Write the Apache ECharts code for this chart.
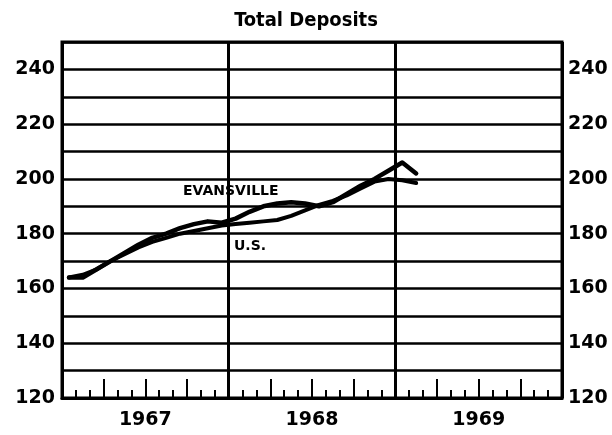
<!DOCTYPE html>
<html>
<head>
<meta charset="utf-8">
<script src="https://cdn.jsdelivr.net/npm/echarts@6/dist/echarts.min.js"></script>
<style>
	html, body { margin: 0; padding: 0; background: #fff; }
	#chart { width: 612px; height: 435px; }
</style>
</head>
<body>
<div id="chart"></div>
<script>
// data, monthly Jan 1967 - Feb 1969
const years = ['1967', '1968', '1969'];
const quarters = ['Q1', 'Q2', 'Q3', 'Q4', 'Q1', 'Q2', 'Q3', 'Q4', 'Q1', 'Q2', 'Q3', 'Q4'];
const months = [];
years.forEach(function(y) {
	for (let m = 1; m <= 12; m++) months.push(y + '-' + m);
});
const evansville = [164, 164, 167, 170, 173, 176, 178.5, 180, 182, 183.5, 184.5, 184,
	185.5, 188, 190, 191, 191.5, 191, 190, 191.5, 194.5, 197.5, 200, 203,
	206, 202];
const us = [164, 165, 167, 170, 172.5, 175, 177, 178.5, 180, 181, 182, 183,
	183.5, 184, 184.5, 185, 186.5, 188.5, 190.5, 192, 194, 196.5, 199, 200,
	199.5, 198.5];

(function() {
	let myChart = echarts.init(document.getElementById('chart'));

	const labelFont = {
		color: '#000',
		fontFamily: 'DejaVu Sans',
		fontWeight: 'bold',
		fontSize: 19
	};

	let option = {
		backgroundColor: '#fff',
		animation: false,
		title: {
			text: 'Total Deposits',
			left: 'center',
			top: 6,
			textStyle: {
				color: '#000',
				fontFamily: 'DejaVu Sans Condensed',
				fontWeight: 'bold',
				fontSize: 20
			}
		},
		grid: {
			left: 62,
			right: 50,
			top: 42,
			bottom: 37,
			show: true,
			borderColor: '#000',
			borderWidth: 3
		},
		xAxis: [
			{
				// 月份刻度
				type: 'category',
				data: months,
				position: 'bottom',
				boundaryGap: true,
				axisLine: { show: true, lineStyle: { color: '#000', width: 3 } },
				axisTick: { show: true, inside: true, length: 8, interval: 0, lineStyle: { color: '#000', width: 2 } },
				axisLabel: { show: false },
				splitLine: { show: false }
			},
			{
				// 季度刻度
				type: 'category',
				data: quarters,
				position: 'bottom',
				boundaryGap: true,
				axisLine: { show: false },
				axisTick: { show: true, inside: true, length: 19, interval: 0, lineStyle: { color: '#000', width: 2 } },
				axisLabel: { show: false },
				splitLine: { show: false }
			},
			{
				// 年份
				type: 'category',
				data: years,
				position: 'bottom',
				boundaryGap: true,
				axisLine: { show: false },
				axisTick: { show: false },
				axisLabel: Object.assign({ margin: 13 }, labelFont),
				splitLine: { show: true, interval: 0, lineStyle: { color: '#000', width: 3 } }
			}
		],
		yAxis: [
			{
				type: 'value',
				min: 120,
				max: 250,
				interval: 10,
				axisLine: { show: false },
				axisTick: { show: false },
				axisLabel: Object.assign({
					margin: 7,
					formatter: function(v) { return v % 20 === 0 ? v : ''; }
				}, labelFont),
				splitLine: { lineStyle: { color: '#000', width: 2.5 } }
			},
			{
				type: 'value',
				position: 'right',
				min: 120,
				max: 250,
				interval: 10,
				axisLine: { show: false },
				axisTick: { show: false },
				axisLabel: Object.assign({
					margin: 6,
					formatter: function(v) { return v % 20 === 0 ? v : ''; }
				}, labelFont),
				splitLine: { show: false }
			}
		],
		series: [
			{
				name: 'EVANSVILLE',
				type: 'line',
				xAxisIndex: 0,
				yAxisIndex: 0,
				showSymbol: false,
				lineStyle: { color: '#000', width: 4.5, join: 'round', cap: 'round' },
				data: evansville
			},
			{
				name: 'U.S.',
				type: 'line',
				xAxisIndex: 0,
				yAxisIndex: 0,
				showSymbol: false,
				lineStyle: { color: '#000', width: 4, join: 'round', cap: 'round' },
				data: us
			}
		],
		graphic: [
			{
				type: 'text',
				left: 183,
				top: 184,
				style: { text: 'EVANSVILLE', fill: '#000', font: 'bold 14px "DejaVu Sans"' }
			},
			{
				type: 'text',
				left: 234,
				top: 239,
				style: { text: 'U.S.', fill: '#000', font: 'bold 14px "DejaVu Sans"' }
			}
		]
	};

	myChart.setOption(option);

	window.addEventListener('resize', function() {
		myChart.resize();
	});
})();
</script>
</body>
</html>
